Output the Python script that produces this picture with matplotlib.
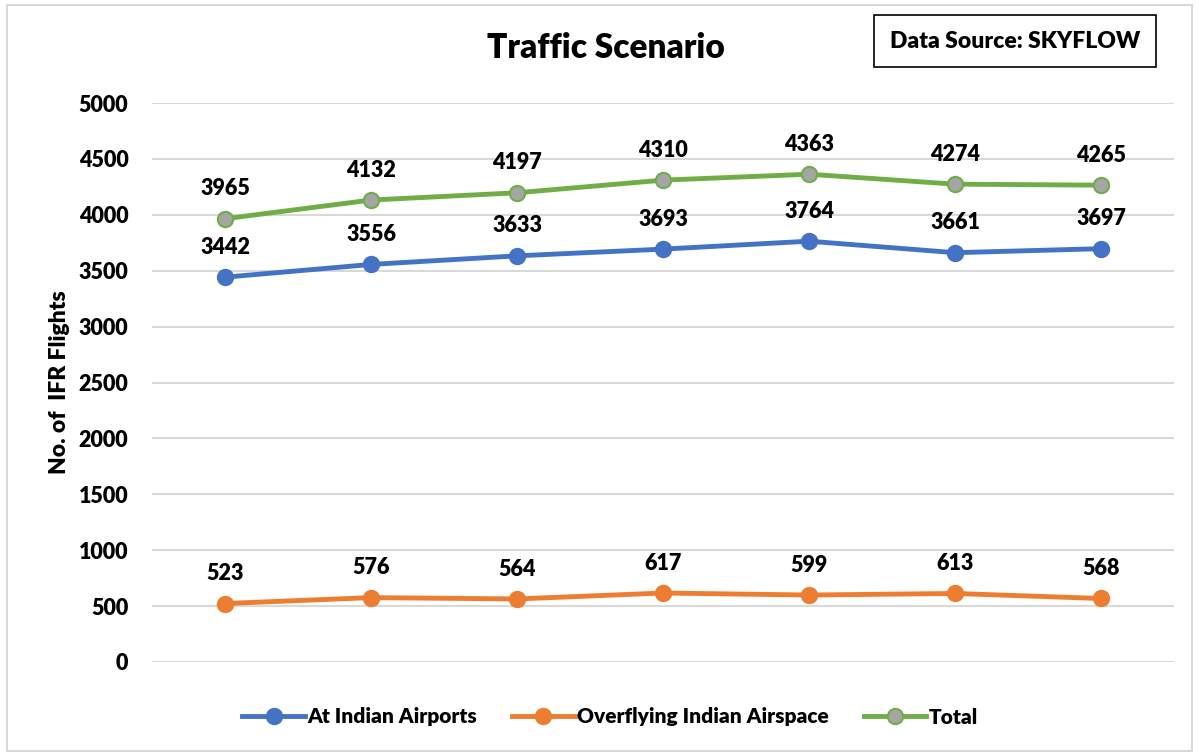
import matplotlib
matplotlib.use('Agg')
import matplotlib.pyplot as plt
from matplotlib.patches import Rectangle

# data
periods = ['P1', 'P2', 'P3', 'P4', 'P5', 'P6', 'P7']
airports = [3442, 3556, 3633, 3693, 3764, 3661, 3697]
overflying = [523, 576, 564, 617, 599, 613, 568]
total = [3965, 4132, 4197, 4310, 4363, 4274, 4265]
y_ticks = [0, 500, 1000, 1500, 2000, 2500, 3000, 3500, 4000, 4500, 5000]

W = 'heavy'
plt.rcParams['font.family'] = ['Lato', 'DejaVu Sans']
plt.rcParams['font.weight'] = W

fig = plt.figure(figsize=(11.99, 7.54), dpi=100)
# outer chart border
fig.patches.append(Rectangle((0.006, 0.004), 0.988, 0.99, transform=fig.transFigure,
                             fill=False, edgecolor='#D9D9D9', linewidth=1.5))

ax = fig.add_axes([152 / 1199, 1 - 662 / 754, (1174 - 152) / 1199, (662 - 103) / 754])
x = list(range(len(periods)))

series = [
    (airports, 'At Indian Airports', '#4472C4', '#4472C4'),
    (overflying, 'Overflying Indian Airspace', '#ED7D31', '#ED7D31'),
    (total, 'Total', '#70AD47', '#A5A5A5'),
]
for vals, name, col, face in series:
    ax.plot(x, vals, color=col, linewidth=3.5, marker='o', markersize=11,
            markerfacecolor=face, markeredgecolor=col, markeredgewidth=1.5,
            label=name, zorder=3)
    for xi, v in zip(x, vals):
        ax.annotate(str(v), (xi, v), xytext=(0, 14), textcoords='offset points',
                    ha='center', va='bottom', fontsize=15.5, fontweight=W)

ax.set_xlim(-0.5, len(periods) - 0.5)
ax.set_ylim(0, 5000)
ax.set_yticks(y_ticks)
ax.set_xticks([])
ax.yaxis.grid(True, color='#D9D9D9', linewidth=1.5)
ax.set_axisbelow(True)
for s in ax.spines.values():
    s.set_visible(False)
ax.tick_params(axis='y', length=0, pad=17, labelsize=15.5)
for t in ax.get_yticklabels():
    t.set_fontweight(W)
ax.set_ylabel('No. of  IFR Flights', fontsize=16.5, fontweight=W, labelpad=6)

fig.text(606 / 1199, 1 - 48 / 754, 'Traffic Scenario', ha='center', va='center',
         fontsize=24, fontweight=W)
fig.text(1015 / 1199, 1 - 41 / 754, 'Data Source: SKYFLOW', ha='center', va='center',
         fontsize=16.5, fontweight=W,
         bbox=dict(boxstyle='square,pad=0.68', facecolor='white', edgecolor='black', linewidth=1.2))

fig.legend(loc='center', bbox_to_anchor=(610 / 1199, 1 - 717 / 754), ncol=3, frameon=False,
           prop={'size': 15, 'weight': W}, handlelength=3.0, columnspacing=1.7,
           handletextpad=0.1)

plt.savefig('out.png', dpi=100)
plt.close()
